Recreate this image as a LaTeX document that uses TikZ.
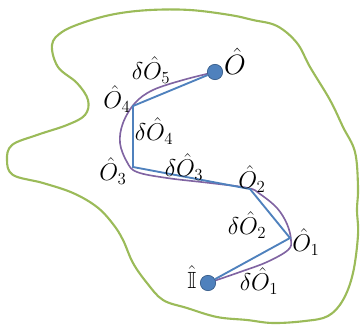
\documentclass[tikz,border=0pt]{standalone}
\usepackage{amsmath}
\usepackage{amssymb}
\usetikzlibrary{backgrounds}
\definecolor{region}{RGB}{155, 187, 89}
\definecolor{steps}{RGB}{79, 129, 189}
\definecolor{path}{RGB}{128, 100, 162}
\definecolor{dotedge}{RGB}{56, 93, 138}

\begin{document}
\begin{tikzpicture}[x=0.03cm, y=-0.03cm,
    state/.style={circle, fill=steps, draw=dotedge, line width=0.6pt,
                  minimum size=0.46cm, inner sep=0pt},
    lbl/.style={inner sep=0pt, font=\fontsize{20}{24}\selectfont},
    stepline/.style={draw=steps, line width=1.6pt},
    geodesic/.style={draw=path, line width=1.4pt},
    boundary/.style={draw=region, line width=1.8pt}]
    \useasboundingbox (0,0) rectangle (362,325);

    % Start and end states
    \node[state] (dotI) at (208, 283) {};
    \node[state] (dotO) at (215, 72) {};

    % Intermediate operators
    \coordinate (v1) at (290, 238);
    \coordinate (v2) at (250, 189);
    \coordinate (v3) at (133, 167);
    \coordinate (v4) at (133, 106);

    \begin{scope}[on background layer]
    % Region
    \draw[boundary] plot[smooth cycle, tension=0.6] coordinates {
        (52,45) (62,32) (85,22) (115,14) (150,10) (190,10) (230,15) (253,20)
        (277,26) (297,43) (310,67) (330,100) (343,127) (355,152) (358,187)
        (357,210) (358,235) (353,273) (343,300) (328,316) (305,321) (273,323)
        (247,320) (217,317) (187,308) (163,300) (147,283) (133,263) (123,240)
        (113,224) (97,207) (73,193) (43,183) (13,175) (7,160) (12,145)
        (37,135) (67,125) (85,115) (88,100) (77,83) (58,67)};

    % Smooth path
    \draw[geodesic] plot[smooth, tension=0.6] coordinates {
        (dotI.center) (240,272) (267,262) (288,250) (291,240) (287,224)
        (277,208) (260,194) (248,188) (210,183) (167,178) (137,172)
        (127,162) (120,143) (123,123) (135,103) (153,90) (183,80) (dotO.center)};
    \end{scope}

    % Steps
    \draw[stepline] (dotI) -- (v1) -- (v2) -- (v3) -- (v4) -- (dotO);

    % Labels
    \node[lbl, scale=1.15] (lblO) at (235, 61) {$\hat{O}$};
    \node[lbl] (lblO4) at (117, 99) {$\hat{O}_4$};
    \node[lbl] (lblO3) at (113, 171) {$\hat{O}_3$};
    \node[lbl] (lblO2) at (252, 179) {$\hat{O}_2$};
    \node[lbl] (lblO1) at (306, 242) {$\hat{O}_1$};
    \node[lbl] (lblI) at (192, 277) {$\hat{\mathbb{I}}$};
    \node[lbl] (lbld5) at (151, 70) {$\delta\hat{O}_5$};
    \node[lbl] (lbld4) at (154, 131) {$\delta\hat{O}_4$};
    \node[lbl] (lbld3) at (184, 167) {$\delta\hat{O}_3$};
    \node[lbl] (lbld2) at (247, 225) {$\delta\hat{O}_2$};
    \node[lbl] (lbld1) at (259, 281) {$\delta\hat{O}_1$};
\end{tikzpicture}
\end{document}
